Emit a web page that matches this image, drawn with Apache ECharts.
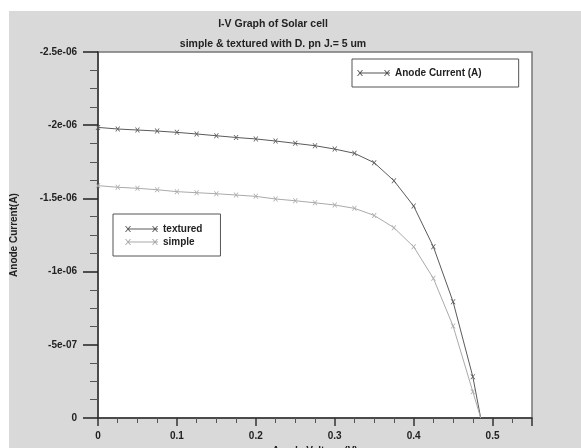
<!DOCTYPE html>
<html>
<head>
<meta charset="utf-8">
<script src="https://cdn.jsdelivr.net/npm/echarts@6/dist/echarts.min.js"></script>
<style>
  body { margin: 0; background: #fff; }
  #bg { position: absolute; left: 9px; top: 11px; right: 0; bottom: 0; background: #d9d9d9; }
  #chart { position: absolute; left: 0; top: 0; width: 581px; height: 448px; }
</style>
</head>
<body>
<div id="bg"></div>
<div id="chart"></div>
<script>
// anode voltage (V), one point every 0.025 V, last point is the open-circuit end
const voltage = [0, 0.025, 0.05, 0.075, 0.1, 0.125, 0.15, 0.175, 0.2, 0.225, 0.25, 0.275,
  0.3, 0.325, 0.35, 0.375, 0.4, 0.425, 0.45, 0.475, 0.485]

// anode current (A)
const textured = [-1.985e-6, -1.974e-6, -1.967e-6, -1.960e-6, -1.951e-6, -1.940e-6, -1.928e-6,
  -1.916e-6, -1.906e-6, -1.892e-6, -1.876e-6, -1.860e-6, -1.837e-6, -1.808e-6, -1.744e-6,
  -1.621e-6, -1.448e-6, -1.170e-6, -0.794e-6, -0.282e-6, 0]
const simple = [-1.587e-6, -1.576e-6, -1.569e-6, -1.559e-6, -1.546e-6, -1.539e-6, -1.532e-6,
  -1.523e-6, -1.514e-6, -1.496e-6, -1.484e-6, -1.470e-6, -1.455e-6, -1.432e-6, -1.384e-6,
  -1.300e-6, -1.170e-6, -0.954e-6, -0.628e-6, -0.180e-6, 0]

const yTickLabels = ['0', '-5e-07', '-1e-06', '-1.5e-06', '-2e-06', '-2.5e-06']
const xTickLabels = ['0', '0.1', '0.2', '0.3', '0.4', '0.5']

const FONT = 'Liberation Sans'
const crossIcon = 'path://M0,0L2,0L5,4L8,0L10,0L6,5L10,10L8,10L5,6L2,10L0,10L4,5Z'
const legendIcon = 'path://M0,2L1,2L3,4.3L5,2L6,2L3.6,5L6,8L5,8L3,5.7L1,8L0,8L2.4,5Z' +
  'M3,4.6L33,4.6L33,5.4L3,5.4Z' +
  'M27,2L28,2L30,4.3L32,2L33,2L30.6,5L33,8L32,8L30,5.7L28,8L27,8L29.4,5Z'

function pairs(values) {
  return values.map((v, i) => {
    const item = { value: [voltage[i], v] }
    if (i === values.length - 1) item.symbol = 'none'
    return item
  })
}

const chart = echarts.init(document.getElementById('chart'), null, { renderer: 'canvas' })

function lineSeries(name, data, color) {
  return {
    name: name,
    type: 'line',
    data: data,
    symbol: crossIcon,
    symbolSize: 5,
    showAllSymbol: true,
    clip: false,
    lineStyle: { color: color, width: 1 },
    itemStyle: { color: color },
    emphasis: { disabled: true }
  }
}

const labelStyle = { fontSize: 10, fontWeight: 'bold', color: '#222', fontFamily: FONT }

const option = {
  animation: false,
  textStyle: { fontFamily: FONT },
  title: [{
    text: 'I-V Graph of Solar cell',
    left: 268,
    top: 14,
    textAlign: 'center',
    textStyle: { fontSize: 10.5, fontWeight: 'bold', color: '#222', fontFamily: FONT }
  }, {
    text: 'simple & textured with D. pn J.= 5 um',
    left: 268,
    top: 34,
    textAlign: 'center',
    textStyle: { fontSize: 10.5, fontWeight: 'bold', color: '#222', fontFamily: FONT }
  }],
  legend: [{
    data: [{ name: 'Anode Current (A)', icon: legendIcon }],
    left: 352,
    top: 59,
    itemWidth: 33,
    itemHeight: 8,
    itemGap: 12,
    padding: [9, 37, 9, 5],
    borderColor: '#555',
    borderWidth: 1,
    backgroundColor: '#fff',
    selectedMode: false,
    textStyle: labelStyle
  }, {
    data: [{ name: 'textured', icon: legendIcon }, { name: 'simple', icon: legendIcon }],
    orient: 'vertical',
    left: 113,
    top: 214,
    itemWidth: 33,
    itemHeight: 8,
    itemGap: 3,
    padding: [10, 18, 9, 12],
    borderColor: '#555',
    borderWidth: 1,
    backgroundColor: '#fff',
    selectedMode: false,
    textStyle: labelStyle
  }],
  grid: {
    left: 98,
    top: 52,
    right: 49,
    bottom: 30,
    outerBoundsMode: 'none',
    containLabel: false,
    show: true,
    backgroundColor: '#fff',
    borderColor: '#777',
    borderWidth: 1.5
  },
  xAxis: {
    type: 'value',
    min: 0,
    max: 0.55,
    interval: 0.1,
    name: 'Anode Voltage (V)',
    nameLocation: 'middle',
    nameGap: 23,
    nameTextStyle: labelStyle,
    axisLine: { lineStyle: { color: '#333', width: 1.5 } },
    axisTick: { length: 8, lineStyle: { color: '#333', width: 1.5 } },
    minorTick: { show: true, splitNumber: 4, length: 5, lineStyle: { color: '#555' } },
    splitLine: { show: false },
    axisLabel: Object.assign({
      margin: 13,
      showMaxLabel: false,
      formatter: v => xTickLabels[Math.round(v / 0.1)] || ''
    }, labelStyle)
  },
  yAxis: {
    type: 'value',
    inverse: true,
    min: -2.5e-6,
    max: 0,
    interval: 5e-7,
    name: 'Anode Current(A)',
    nameLocation: 'middle',
    nameGap: 79,
    nameTextStyle: labelStyle,
    axisLine: { lineStyle: { color: '#333', width: 1.5 } },
    axisTick: { length: 15, lineStyle: { color: '#222', width: 1.5 } },
    minorTick: { show: true, splitNumber: 4, length: 8, lineStyle: { color: '#555' } },
    splitLine: { show: false },
    axisLabel: Object.assign({
      margin: 21,
      formatter: v => yTickLabels[Math.round(-v / 5e-7)] || ''
    }, labelStyle)
  },
  series: [
    lineSeries('Anode Current (A)', [], '#555'),
    lineSeries('textured', pairs(textured), '#5a5a5a'),
    lineSeries('simple', pairs(simple), '#aaa')
  ]
}

chart.setOption(option)
</script>
</body>
</html>
